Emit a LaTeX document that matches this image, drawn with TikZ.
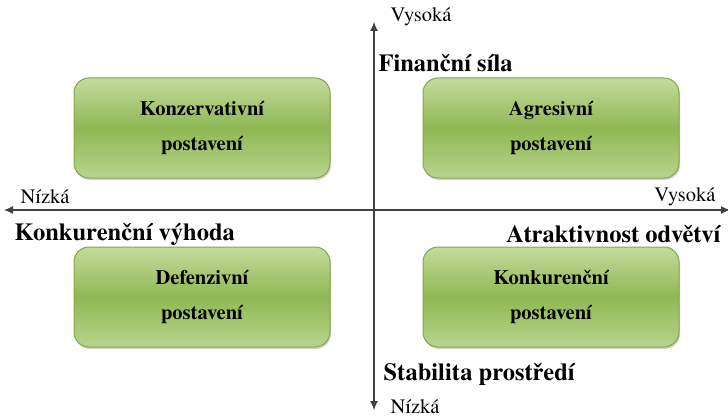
\documentclass[tikz,border=0pt]{standalone}
\usepackage{fontspec}
\setmainfont{TeX Gyre Termes}
\usetikzlibrary{arrows.meta,shadows}
\definecolor{quadtop}{HTML}{C5DB9E}
\definecolor{quadmid}{HTML}{8FB853}
\definecolor{quadbot}{HTML}{B8D48E}
\definecolor{quadline}{HTML}{84A648}
\begin{document}
\begin{tikzpicture}[x=1pt,y=-1pt,
    quad/.style={draw=quadline, line width=1pt, rounded corners=15pt,
      minimum width=256pt, minimum height=100pt, top color=quadtop,
      bottom color=quadbot, middle color=quadmid,
      drop shadow={shadow xshift=1pt, shadow yshift=-2pt, opacity=0.35},
      align=center, font=\fontsize{20.5}{35}\selectfont\bfseries},
    axis/.style={draw=black!75, line width=1.2pt, -{Latex[length=9pt,width=8pt]}},
    ends/.style={font=\fontsize{20.5}{21}\selectfont},
    title/.style={font=\fontsize{24.5}{27}\selectfont\bfseries}]
  \useasboundingbox (0,0) rectangle (728,417);
  \coordinate (c) at (374,210);
  \coordinate (top) at (374,22);
  \coordinate (bottom) at (374,410);
  \coordinate (left) at (4,210);
  \coordinate (right) at (730,210);
  \draw[axis] (c) -- (top);
  \draw[axis] (c) -- (bottom);
  \draw[axis] (c) -- (left);
  \draw[axis] (c) -- (right);
  \node[quad] (kons) at (202,128) {Konzervativní\\postavení};
  \node[quad] (agr) at (551,128) {Agresivní\\postavení};
  \node[quad] (def) at (202,297) {Defenzivní\\postavení};
  \node[quad] (konk) at (551,297) {Konkurenční\\postavení};
  \node[ends, anchor=west] (vysy) at (387,17) {Vysoká};
  \node[title, anchor=west] (fin) at (375,63) {Finanční síla};
  \node[ends, anchor=west] (nizx) at (17,197) {Nízká};
  \node[title, anchor=west] (konkv) at (11,234) {Konkurenční výhoda};
  \node[ends, anchor=east] (vysx) at (719,197) {Vysoká};
  \node[title, anchor=east] (atr) at (724,234) {Atraktivnost odvětví};
  \node[title, anchor=west] (stab) at (380,374) {Stabilita prostředí};
  \node[ends, anchor=west] (nizy) at (387,407) {Nízká};
\end{tikzpicture}
\end{document}
